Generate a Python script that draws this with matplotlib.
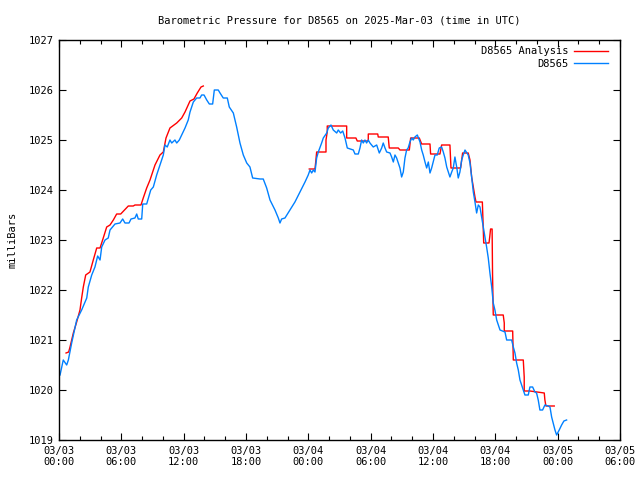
import numpy as np
import matplotlib
matplotlib.use("Agg")
import matplotlib.pyplot as plt

# ---- data (hours since 2025-03-03 00:00 UTC, pressure in mbar) ----
blue_h = [0.10, 0.41, 0.74, 0.90, 1.22, 1.70, 2.18, 2.67, 2.82, 3.15, 3.46, 3.72, 3.95, 4.11, 4.43,
          4.74, 4.91, 5.39, 5.87, 6.13, 6.35, 6.74, 6.93, 7.31, 7.48, 7.63, 7.96, 8.06, 8.44, 8.83,
          9.08, 9.40, 9.72, 10.04, 10.20, 10.42, 10.68, 10.85, 11.16, 11.33, 11.58, 11.81, 12.13,
          12.44, 12.61, 12.93, 13.25, 13.57, 13.73, 13.96, 14.22, 14.47, 14.79, 14.95, 15.33, 15.50,
          15.81, 16.20, 16.39, 16.78, 17.10, 17.42, 17.74, 18.07, 18.38, 18.64, 19.35, 19.66, 19.99,
          20.31, 20.79, 21.11, 21.27, 21.43, 21.75, 22.23, 22.71, 23.20, 23.68, 23.99, 24.16, 24.32,
          24.48, 24.64, 24.80, 24.96, 25.28, 25.44, 25.77, 25.92, 26.18, 26.40, 26.73, 26.88, 27.11,
          27.31, 27.53, 27.75, 28.33, 28.49, 28.81, 28.97, 29.13, 29.29, 29.45, 29.61, 29.77, 29.93,
          30.25, 30.58, 30.83, 31.06, 31.21, 31.38, 31.54, 31.86, 32.02, 32.18, 32.34, 32.50, 32.66,
          32.82, 32.98, 33.14, 33.30, 33.46, 33.61, 33.78, 33.95, 34.10, 34.26, 34.49, 34.75, 34.91,
          35.06, 35.23, 35.39, 35.55, 35.71, 35.87, 36.19, 36.41, 36.60, 36.83, 36.99, 37.15, 37.32,
          37.47, 37.63, 37.80, 37.95, 38.11, 38.28, 38.43, 38.59, 38.76, 38.91, 39.08, 39.39, 39.56,
          39.72, 39.88, 40.04, 40.20, 40.36, 40.52, 40.68, 40.84, 41.00, 41.16, 41.32, 41.48, 41.65,
          41.80, 41.96, 42.13, 42.45, 42.93, 43.09, 43.57, 43.73, 43.89, 44.05, 44.21, 44.37, 44.53,
          44.85, 45.17, 45.33, 45.59, 45.81, 45.97, 46.13, 46.29, 46.55, 46.77, 47.09, 47.26, 47.42,
          47.57, 47.74, 47.90, 48.15, 48.38, 48.60, 48.86]
blue_p = [1020.30, 1020.60, 1020.50, 1020.60, 1020.94, 1021.40, 1021.60, 1021.84, 1022.06, 1022.30,
          1022.46, 1022.68, 1022.60, 1022.86, 1023.00, 1023.04, 1023.20, 1023.32, 1023.34, 1023.42,
          1023.34, 1023.34, 1023.42, 1023.44, 1023.52, 1023.42, 1023.42, 1023.72, 1023.72, 1024.00,
          1024.06, 1024.30, 1024.50, 1024.70, 1024.90, 1024.86, 1025.00, 1024.94, 1025.00, 1024.94,
          1025.00, 1025.10, 1025.24, 1025.40, 1025.56, 1025.76, 1025.84, 1025.84, 1025.90, 1025.90,
          1025.80, 1025.72, 1025.72, 1026.00, 1026.00, 1025.94, 1025.84, 1025.84, 1025.66, 1025.54,
          1025.26, 1024.94, 1024.70, 1024.54, 1024.46, 1024.24, 1024.22, 1024.22, 1024.04, 1023.80,
          1023.60, 1023.44, 1023.34, 1023.42, 1023.44, 1023.60, 1023.76, 1023.96, 1024.16, 1024.30,
          1024.40, 1024.34, 1024.40, 1024.36, 1024.64, 1024.76, 1024.94, 1025.04, 1025.14, 1025.24,
          1025.30, 1025.20, 1025.14, 1025.20, 1025.14, 1025.18, 1025.04, 1024.84, 1024.80, 1024.72,
          1024.72, 1024.84, 1025.00, 1024.94, 1025.00, 1024.94, 1025.00, 1024.94, 1024.86, 1024.90,
          1024.74, 1024.84, 1024.94, 1024.84, 1024.76, 1024.74, 1024.66, 1024.56, 1024.70, 1024.64,
          1024.54, 1024.44, 1024.26, 1024.36, 1024.64, 1024.80, 1024.84, 1024.96, 1025.04, 1025.00,
          1025.06, 1025.10, 1024.96, 1024.80, 1024.70, 1024.56, 1024.44, 1024.56, 1024.34, 1024.44,
          1024.70, 1024.70, 1024.84, 1024.86, 1024.76, 1024.64, 1024.46, 1024.36, 1024.26, 1024.36,
          1024.44, 1024.66, 1024.46, 1024.24, 1024.36, 1024.60, 1024.70, 1024.80, 1024.70, 1024.54,
          1024.26, 1023.96, 1023.76, 1023.54, 1023.70, 1023.66, 1023.46, 1023.26, 1023.06, 1022.86,
          1022.64, 1022.34, 1022.06, 1021.74, 1021.60, 1021.40, 1021.20, 1021.16, 1021.00, 1021.00,
          1020.86, 1020.74, 1020.54, 1020.40, 1020.20, 1020.10, 1019.90, 1019.90, 1020.06, 1020.06,
          1019.96, 1019.94, 1019.80, 1019.60, 1019.60, 1019.70, 1019.68, 1019.66, 1019.46, 1019.34,
          1019.20, 1019.10, 1019.20, 1019.30, 1019.38, 1019.40]

red_h = [0.68, 0.93, 1.06, 1.38, 1.70, 2.02, 2.18, 2.34, 2.57, 2.98, 3.30, 3.63, 3.95, 4.26, 4.59,
         4.91, 5.23, 5.55, 5.94, 6.67, 7.15, 7.31, 7.89, 8.11, 8.44, 8.76, 9.24, 9.72, 10.04, 10.30,
         10.68, 11.33, 11.81, 12.13, 12.61, 12.99, 13.31, 13.67, 13.89,
         np.nan,
         24.09, 24.64, 24.71, 24.80, 25.70, 25.70, 25.82, 25.82, 27.69, 27.69, 28.58, 28.71, 29.29,
         29.77, 29.77, 30.68, 30.73, 31.69, 31.79, 32.66, 32.82, 33.72, 33.85, 34.68, 34.91, 35.71,
         35.77, 36.67, 36.83, 37.63, 37.73, 38.66, 38.85, 39.39, 39.56, 39.72, 39.88, 40.04, 40.14,
         40.75, 40.81, 40.88, 41.39, 41.46, 41.54, 41.69, 41.73, 41.80, 42.76, 42.86, 42.86, 43.67,
         43.73, 44.69, 44.78, 44.78, 45.33, 46.71, 46.77, 46.87, 47.67]
red_p = [1020.74, 1020.76, 1020.86, 1021.14, 1021.36, 1021.60, 1021.84, 1022.06, 1022.30, 1022.36,
         1022.60, 1022.84, 1022.84, 1023.04, 1023.26, 1023.30, 1023.40, 1023.52, 1023.52, 1023.68,
         1023.68, 1023.70, 1023.70, 1023.84, 1024.04, 1024.20, 1024.50, 1024.70, 1024.76, 1025.04,
         1025.24, 1025.34, 1025.44, 1025.56, 1025.78, 1025.82, 1025.94, 1026.06, 1026.08,
         np.nan,
         1024.42, 1024.42, 1024.56, 1024.76, 1024.76, 1025.00, 1025.16, 1025.28, 1025.28, 1025.04,
         1025.04, 1024.98, 1024.98, 1024.98, 1025.12, 1025.12, 1025.06, 1025.06, 1024.84, 1024.84,
         1024.80, 1024.80, 1025.04, 1025.04, 1024.92, 1024.92, 1024.72, 1024.72, 1024.90, 1024.90,
         1024.44, 1024.44, 1024.74, 1024.74, 1024.60, 1024.26, 1024.06, 1023.86, 1023.76, 1023.76,
         1023.40, 1022.94, 1022.94, 1023.06, 1023.22, 1023.22, 1022.34, 1021.50, 1021.50, 1021.34,
         1021.18, 1021.18, 1020.60, 1020.60, 1020.26, 1019.98, 1019.98, 1019.94, 1019.80, 1019.68,
         1019.68]

xtick_hours = [0, 6, 12, 18, 24, 30, 36, 42, 48, 54]
xtick_labels = ["03/03\n00:00", "03/03\n06:00", "03/03\n12:00", "03/03\n18:00",
                "03/04\n00:00", "03/04\n06:00", "03/04\n12:00", "03/04\n18:00",
                "03/05\n00:00", "03/05\n06:00"]
ytick_vals = [1019, 1020, 1021, 1022, 1023, 1024, 1025, 1026, 1027]

plt.rcParams['font.family'] = ['DejaVu Sans Mono']
plt.rcParams['font.size'] = 7.5

fig = plt.figure(figsize=(6.4, 4.8), dpi=100)
ax = fig.add_axes([59/640, 1-440/480, 561/640, 400/480])

ax.plot(red_h, red_p, color='#ff0000', lw=1.0, label='D8565 Analysis')
ax.plot(blue_h, blue_p, color='#0080ff', lw=1.0, label='D8565')

ax.set_xlim(0, 54)
ax.set_ylim(1019, 1027)
ax.set_xticks(xtick_hours)
ax.set_xticklabels(xtick_labels)
ax.set_xticks(np.arange(0, 55, 2), minor=True)
ax.set_yticks(ytick_vals)
ax.set_yticklabels([str(v) for v in ytick_vals])

ax.tick_params(which='major', direction='in', length=5, width=0.8, top=True, right=True, pad=4)
ax.tick_params(which='minor', direction='in', length=3, width=0.8, top=True, right=False)
ax.tick_params(axis='y', which='minor', left=False, right=False)
for s in ax.spines.values():
    s.set_linewidth(1.0)

ax.set_title('Barometric Pressure for D8565 on 2025-Mar-03 (time in UTC)', fontsize=7.5, pad=12)
ax.set_ylabel('milliBars', labelpad=8)

leg = ax.legend(loc='upper right', bbox_to_anchor=(1 - 6/561, 1.0), frameon=False,
                markerfirst=False, handlelength=3.2,
                borderaxespad=0.2, labelspacing=0.25, handletextpad=0.6)
for t in leg.get_texts():
    t.set_ha('right')

fig.savefig('out.png', dpi=100)
